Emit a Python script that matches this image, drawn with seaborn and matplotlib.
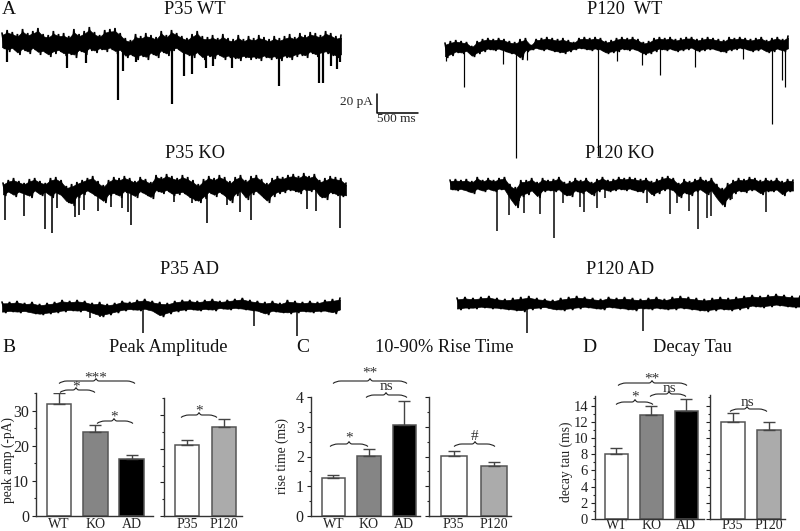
import numpy as np
import matplotlib
matplotlib.use("Agg")
import matplotlib.pyplot as plt
import seaborn as sns
from matplotlib.path import Path
from matplotlib.patches import PathPatch

sns.set_style("white")
plt.rcParams["font.family"] = ["Liberation Serif", "DejaVu Serif"]

# bar data (mean, mean + error)
groups = ["WT", "KO", "AD"]
ages = ["P35", "P120"]
peak_groups = [31.9, 23.9, 16.4]
peak_groups_err = [35.0, 25.9, 17.5]
peak_ages = [21.0, 26.6]
peak_ages_err = [22.5, 28.9]
rise_groups = [1.27, 2.03, 3.05]
rise_groups_err = [1.38, 2.25, 3.85]
rise_ages = [2.03, 1.67]
rise_ages_err = [2.20, 1.81]
tau_groups = [8.0, 12.85, 13.4]
tau_groups_err = [8.8, 13.97, 14.8]
tau_ages = [11.95, 11.0]
tau_ages_err = [13.05, 12.0]

group_colors = ["white", "#858585", "black"]
age_colors = ["white", "#ababab"]

# current traces, upper and lower edge of the noise band, plus the events (x, tip)
wt35_top = [33,30,32,34,29,33,31,28,34,35,31,34,33,36,29,34,31,27,32,35,30,29,28,33,38,40,34,36,33,35,37,31,35,30,33,36,38,34,31,36,37,35,38,34,38,39,35,39,36,38,35,37,39,36,38,36,34,37,33,35,32,33,35,31,33,36,35]
wt35_bot = [49,52,50,55,51,54,50,55,53,57,54,52,56,55,58,52,55,51,53,50,52,50,54,52,58,56,60,57,60,55,58,53,56,51,50,54,56,58,55,60,57,59,56,60,58,59,61,58,60,59,61,58,60,59,61,58,60,57,56,58,54,57,55,54,56,58,57]
wt35_spikes = [(7,62),(67,68),(86,63),(118,100),(123,71),(136,62),(172,104),(184,76),(192,74),(206,68),(213,66),(232,68),(279,86),(319,83),(323,83),(331,66),(337,69),(340,62)]

wt120_top = [43,41,40,41,42,46,41,39,38,39,38,39,41,42,39,38,45,39,38,37,38,39,38,40,42,38,37,38,37,38,41,40,38,37,38,37,39,42,41,38,37,38,37,39,38,37,37,39,38,37,38,39,40,37,38,37,38,39,38,37,40,38,37,39,36]
wt120_bot = [58,56,53,54,52,57,54,52,50,51,50,52,54,55,60,52,50,49,51,50,52,53,54,52,50,49,50,51,50,51,54,53,52,50,51,50,52,55,54,52,50,51,50,52,51,50,49,52,51,50,50,52,53,51,50,49,50,52,51,50,53,52,50,52,50]
wt120_spikes = [(446,61),(464,87),(503,64),(516,158),(527,60),(598,156),(617,61),(642,65),(660,75),(695,67),(743,59),(772,124),(782,80),(785,87)]

ko35_top = [183,180,178,181,183,179,178,181,183,178,177,180,186,184,182,180,178,176,181,185,180,177,178,176,178,181,177,179,182,175,177,174,176,178,175,177,180,184,179,176,178,175,177,181,177,175,180,176,175,179,183,178,176,177,175,174,176,173,176,174,180,178,176,177,178,183]
ko35_bot = [196,193,197,193,195,198,192,196,193,198,194,197,203,206,198,195,192,196,199,203,196,195,198,193,195,198,193,196,199,192,194,192,196,195,194,198,201,203,199,194,197,194,198,203,196,193,200,195,193,198,203,197,194,193,191,192,194,191,192,191,198,200,194,196,197,197]
ko35_spikes = [(5,220),(24,216),(45,229),(52,233),(57,208),(75,217),(79,215),(84,210),(98,211),(111,207),(122,208),(128,212),(131,225),(174,202),(192,203),(207,223),(227,205),(240,212),(251,220),(307,209),(316,211),(340,228)]

ko120_top = [180,179,180,179,181,177,180,178,180,178,177,184,187,180,180,178,182,178,180,179,177,182,181,178,180,178,182,179,177,180,179,177,178,177,178,179,178,181,179,177,176,178,183,179,181,179,177,180,178,184,188,183,180,178,179,177,178,180,178,180,178,181,179,180]
ko120_bot = [190,191,190,192,194,190,192,190,192,190,191,200,208,197,195,192,198,192,191,192,191,196,197,192,194,192,196,192,190,192,191,190,191,190,192,193,190,196,194,191,190,192,198,194,196,192,191,195,192,200,207,200,194,192,193,191,191,195,192,192,191,196,192,192]
ko120_spikes = [(497,231),(509,215),(519,201),(524,213),(540,214),(554,238),(563,203),(580,207),(584,212),(597,208),(605,198),(647,203),(670,214),(677,203),(689,211),(698,229),(707,218),(711,216),(732,199),(766,212)]

ad35_top = [302,302,301,303,302,304,303,302,300,301,300,301,303,302,304,303,301,302,300,299,301,302,303,301,300,300,301,300,299,301,300,299,298,300,301,302,301,303,300,301,302,301,302,300,299,298]
ad35_bot = [313,312,313,312,314,315,314,313,312,311,312,311,314,317,315,313,311,310,311,310,312,317,314,312,311,310,311,310,311,309,310,309,310,311,312,315,312,313,314,313,312,313,312,312,314,311]
ad35_spikes = [(90,318),(100,317),(143,333),(254,326),(297,336)]

ad120_top = [298,297,298,297,296,298,299,298,297,296,298,299,300,298,297,296,297,298,299,297,298,297,298,299,298,297,299,297,296,297,298,299,298,297,298,297,296,295,296,295,294,295,296,296]
ad120_bot = [310,309,309,308,309,309,310,311,312,310,309,308,310,311,310,309,308,309,310,308,309,310,311,309,310,309,310,310,309,310,311,312,311,310,311,310,309,307,308,307,306,307,308,308]
ad120_spikes = [(527,333),(643,331)]

traces = [
    (2, 341, wt35_top, wt35_bot, wt35_spikes, 2.2),
    (445, 788, wt120_top, wt120_bot, wt120_spikes, 1.2),
    (3, 346, ko35_top, ko35_bot, ko35_spikes, 1.6),
    (450, 793, ko120_top, ko120_bot, ko120_spikes, 1.5),
    (2, 340, ad35_top, ad35_bot, ad35_spikes, 1.5),
    (457, 800, ad120_top, ad120_bot, ad120_spikes, 1.5),
]

trace_titles = [("P35 WT", 195, 10), ("P120  WT", 625, 9), ("P35 KO", 195, 154),
                ("P120 KO", 620, 154), ("P35 AD", 190, 270), ("P120 AD", 620, 270)]
panel_titles = [("Peak Amplitude", 168, 348), ("10-90% Rise Time", 444, 348), ("Decay Tau", 692, 348)]
panel_letters = [("A", 9, 10), ("B", 9, 347), ("C", 303, 347), ("D", 589, 347)]
y_labels = [("peak amp (-pA)", 8, 460), ("rise time (ms)", 282, 456), ("decay tau (ms)", 566, 462)]

# x0, x1, y, mark, mark x, mark y
braces = [
    (59, 135, 381, "***", 96, 378), (60, 95, 390, "*", 76, 387), (97, 133, 421, "*", 114, 417),
    (181, 217, 415, "*", 199, 411),
    (333, 407, 381, "**", 370, 373), (366, 407, 395, "ns", 386, 387), (330, 368, 444, "*", 349, 438),
    (454, 495, 444, "#", 475, 436),
    (618, 687, 383, "**", 652, 379), (650, 686, 394, "ns", 669, 388), (616, 653, 402, "*", 635, 397),
    (730, 767, 409, "ns", 747, 402),
]

fig = plt.figure(figsize=(8, 5.31), dpi=100)

# whole-figure layer in image pixels for traces and annotation
bg = fig.add_axes([0, 0, 1, 1])
bg.set_xlim(0, 800)
bg.set_ylim(531, 0)
bg.axis("off")

for x0, x1, top, bot, spikes, lw in traces:
    top = np.array(top, dtype=float)
    bot = np.array(bot, dtype=float)
    xs = np.linspace(x0, x1, len(top))
    # solid core, then a zigzag between the edges so the band looks like noise
    bg.fill_between(xs, top + (bot - top) * 0.12, bot - (bot - top) * 0.12, color="black", lw=0.5)
    half = (xs[1] - xs[0]) / 2
    zig_x = np.column_stack([xs, xs + half]).ravel()[:-1]
    zig_y = np.column_stack([top, bot]).ravel()[:-1]
    bg.plot(zig_x, zig_y, color="black", lw=1.2, solid_joinstyle="miter")
    for sx, tip in spikes:
        y_start = np.interp(sx, xs, top) + 6
        bg.plot([sx, sx], [y_start, tip], color="black", lw=lw * 0.72, solid_capstyle="butt")

for txt, x, y in trace_titles + panel_titles:
    bg.text(x, y, txt, fontsize=13.2, ha="center", va="center", color="#111111")
for txt, x, y in panel_letters:
    bg.text(x, y, txt, fontsize=14, ha="center", va="center", color="#111111")
for txt, x, y in y_labels:
    bg.text(x, y, txt, fontsize=9.8, rotation=90, ha="center", va="center", color="#222222")

# scale bar
bg.plot([377, 377, 418], [94, 113, 113], color="black", lw=1.1)
bg.text(356, 102, "20 pA", fontsize=9.5, ha="center", va="center")
bg.text(396, 119.5, "500 ms", fontsize=9.5, ha="center", va="center")


def draw_brace(x0, x1, y, mark, mx, my):
    xm = mx
    verts = [(x0, y + 2.5), (x0 + 3, y), (x0 + 8, y), (xm - 3, y), (xm - 1, y), (xm, y - 2.5),
             (xm + 1, y), (xm + 3, y), (x1 - 8, y), (x1 - 3, y), (x1, y + 2.5)]
    codes = [Path.MOVETO, Path.CURVE3, Path.CURVE3, Path.LINETO, Path.CURVE3, Path.CURVE3,
             Path.CURVE3, Path.CURVE3, Path.LINETO, Path.CURVE3, Path.CURVE3]
    bg.add_patch(PathPatch(Path(verts, codes), fill=False, lw=0.8, edgecolor="#222222"))
    bg.text(mx, my, mark, fontsize=11, ha="center", va="center", color="#333333")


for item in braces:
    draw_brace(*item)


def bar_panel(labels, means, tops, colors, x_left, x_right, first_center, step, y_top, y_base,
              y_max, major, minor, bar_px, show_labels, x_pad=1.5, y_size=11.5):
    ax = fig.add_axes([x_left / 800, 1 - y_base / 531, (x_right - x_left) / 800, (y_base - y_top) / 531])
    ax.patch.set_alpha(0)
    sns.barplot(x=labels, y=means, hue=labels, palette=colors, width=bar_px / step, dodge=False,
                edgecolor="#555555", linewidth=1.1, legend=False, ax=ax)
    errs = np.array(tops) - np.array(means)
    ax.errorbar(range(len(labels)), means, yerr=[np.zeros(len(labels)), errs], fmt="none",
                ecolor="#444444", elinewidth=1, capsize=4.5, capthick=1)
    ax.set_xlim((x_left - first_center) / step, (x_right - first_center) / step)
    ax.set_ylim(0, y_max)
    ax.set_yticks(major)
    ax.set_yticks(minor, minor=True)
    if not show_labels:
        ax.set_yticklabels([])
    ax.tick_params(axis="y", which="major", direction="out", length=3, width=0.8, left=True,
                   labelsize=y_size, pad=2, colors="#222222")
    ax.tick_params(axis="y", which="minor", direction="out", length=1.5, width=0.8, left=True)
    ax.tick_params(axis="x", length=0, labelsize=10, pad=x_pad, colors="#222222")
    sns.despine(ax=ax)
    for s in ["left", "bottom"]:
        ax.spines[s].set_color("#333333")
        ax.spines[s].set_linewidth(1)
    ax.set_xlabel("")
    ax.set_ylabel("")
    return ax


bar_panel(groups, peak_groups, peak_groups_err, group_colors, 36, 153, 59, 36.3, 393, 516, 35.1,
          [0, 10, 20, 30], [5, 15, 25, 35], 24.5, True)
bar_panel(ages, peak_ages, peak_ages_err, age_colors, 164, 242, 187, 37, 398, 516, 35.1,
          [0, 10, 20, 30], [5, 15, 25, 35], 24.5, False)
bar_panel(groups, rise_groups, rise_groups_err, group_colors, 310.7, 420, 333.3, 35.5, 397, 516, 4,
          [0, 1, 2, 3, 4], [0.5, 1.5, 2.5, 3.5], 23.5, True)
bar_panel(ages, rise_ages, rise_ages_err, age_colors, 429, 511, 453.5, 40.5, 397, 516, 4,
          [0, 1, 2, 3, 4], [0.5, 1.5, 2.5, 3.5], 26, False)
bar_panel(groups, tau_groups, tau_groups_err, group_colors, 595, 704, 616.3, 35, 396, 519, 15.2,
          [0, 2, 4, 6, 8, 10, 12, 14], [1, 3, 5, 7, 9, 11, 13, 15], 23.5, True, x_pad=0, y_size=10.5)
bar_panel(ages, tau_ages, tau_ages_err, age_colors, 710, 785, 732.5, 36.5, 395, 519, 15.3,
          [0, 2, 4, 6, 8, 10, 12, 14], [1, 3, 5, 7, 9, 11, 13, 15], 24, False, x_pad=0)

fig.savefig("out.png", dpi=100)
